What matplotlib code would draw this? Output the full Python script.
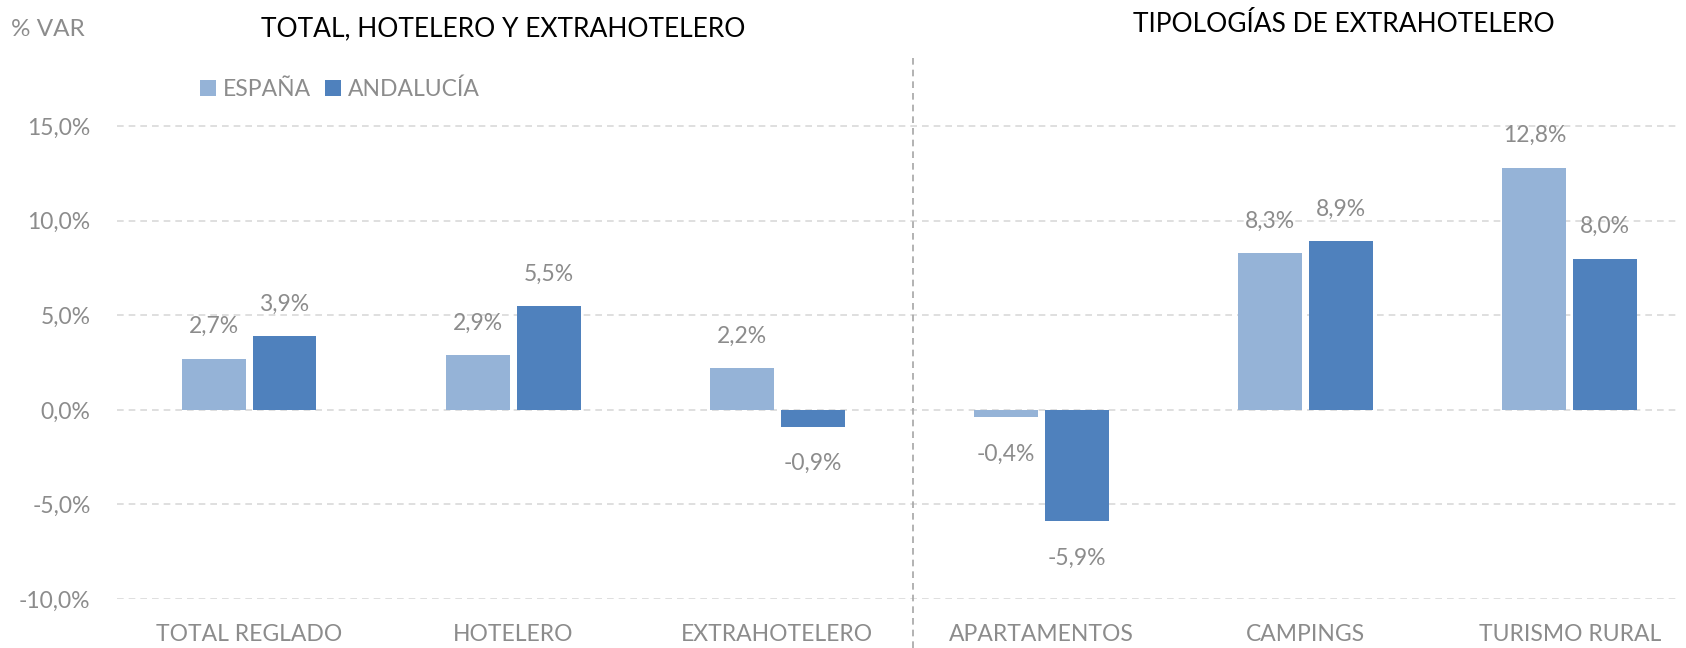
import matplotlib
matplotlib.use("Agg")
import matplotlib.pyplot as plt
import numpy as np

categories = ["TOTAL REGLADO", "HOTELERO", "EXTRAHOTELERO",
              "APARTAMENTOS", "CAMPINGS", "TURISMO RURAL"]
espana = [2.7, 2.9, 2.2, -0.4, 8.3, 12.8]
andalucia = [3.9, 5.5, -0.9, -5.9, 8.9, 8.0]
series_names = ["ESPAÑA", "ANDALUCÍA"]
yticks = [-10, -5, 0, 5, 10, 15]

c_esp = "#95B3D7"
c_and = "#4F81BD"
grey = "#8C8C8C"

plt.rcParams['font.family'] = ['Lato', 'DejaVu Sans']

def pct(v):
    return ("%.1f%%" % v).replace(".", ",")

fig = plt.figure(figsize=(16.86, 6.48), dpi=100)
ax = fig.add_axes([0.0694, 0.0756, 0.9259, 0.8349])

x = np.arange(len(categories))
w = 0.242
off = 0.134
b1 = ax.bar(x - off, espana, w, color=c_esp, label=series_names[0], zorder=3)
b2 = ax.bar(x + off, andalucia, w, color=c_and, label=series_names[1], zorder=3)

for bars, vals in [(b1, espana), (b2, andalucia)]:
    for r, v in zip(bars, vals):
        dy = 23 if v >= 0 else -26.5
        ax.annotate(pct(v), (r.get_x() + r.get_width() / 2, v),
                    xytext=(0, dy), textcoords="offset points",
                    ha="center", va="center", fontsize=16.5, color=grey)

ax.set_xlim(-0.5, 5.41)
ax.set_ylim(-10, 18.6)
ax.set_yticks(yticks)
ax.set_yticklabels([pct(t) for t in yticks])
ax.set_xticks(x)
ax.set_xticklabels(categories)
ax.tick_params(axis="both", length=0, labelsize=16.5, labelcolor=grey)
ax.tick_params(axis="y", pad=19)
ax.tick_params(axis="x", pad=18)
ax.grid(axis="y", color="#D9D9D9", linestyle=(0, (4, 3)), linewidth=1.2, zorder=0)
for s in ax.spines.values():
    s.set_visible(False)

leg = ax.legend(loc="upper left", bbox_to_anchor=(0.04, 1.0), ncol=2, frameon=False,
                fontsize=16.5, handlelength=0.7, handleheight=0.7, handletextpad=0.3,
                columnspacing=0.6)
for t in leg.get_texts():
    t.set_color(grey)

# separador entre los dos bloques
fig.add_artist(plt.Line2D([913 / 1686, 913 / 1686], [0, 0.9105], color="#A6A6A6",
                          linestyle=(0, (4, 3)), linewidth=1.2))

fig.text(48 / 1686, 1 - 30 / 648, "% VAR", ha="center", va="center", fontsize=17.5,
         color=grey)
fig.text(503 / 1686, 1 - 29 / 648, "TOTAL, HOTELERO Y EXTRAHOTELERO", ha="center",
         va="center", fontsize=19, color="black")
fig.text(1344 / 1686, 1 - 25 / 648, "TIPOLOGÍAS DE EXTRAHOTELERO", ha="center",
         va="center", fontsize=19, color="black")

fig.savefig("out.png", dpi=100)
